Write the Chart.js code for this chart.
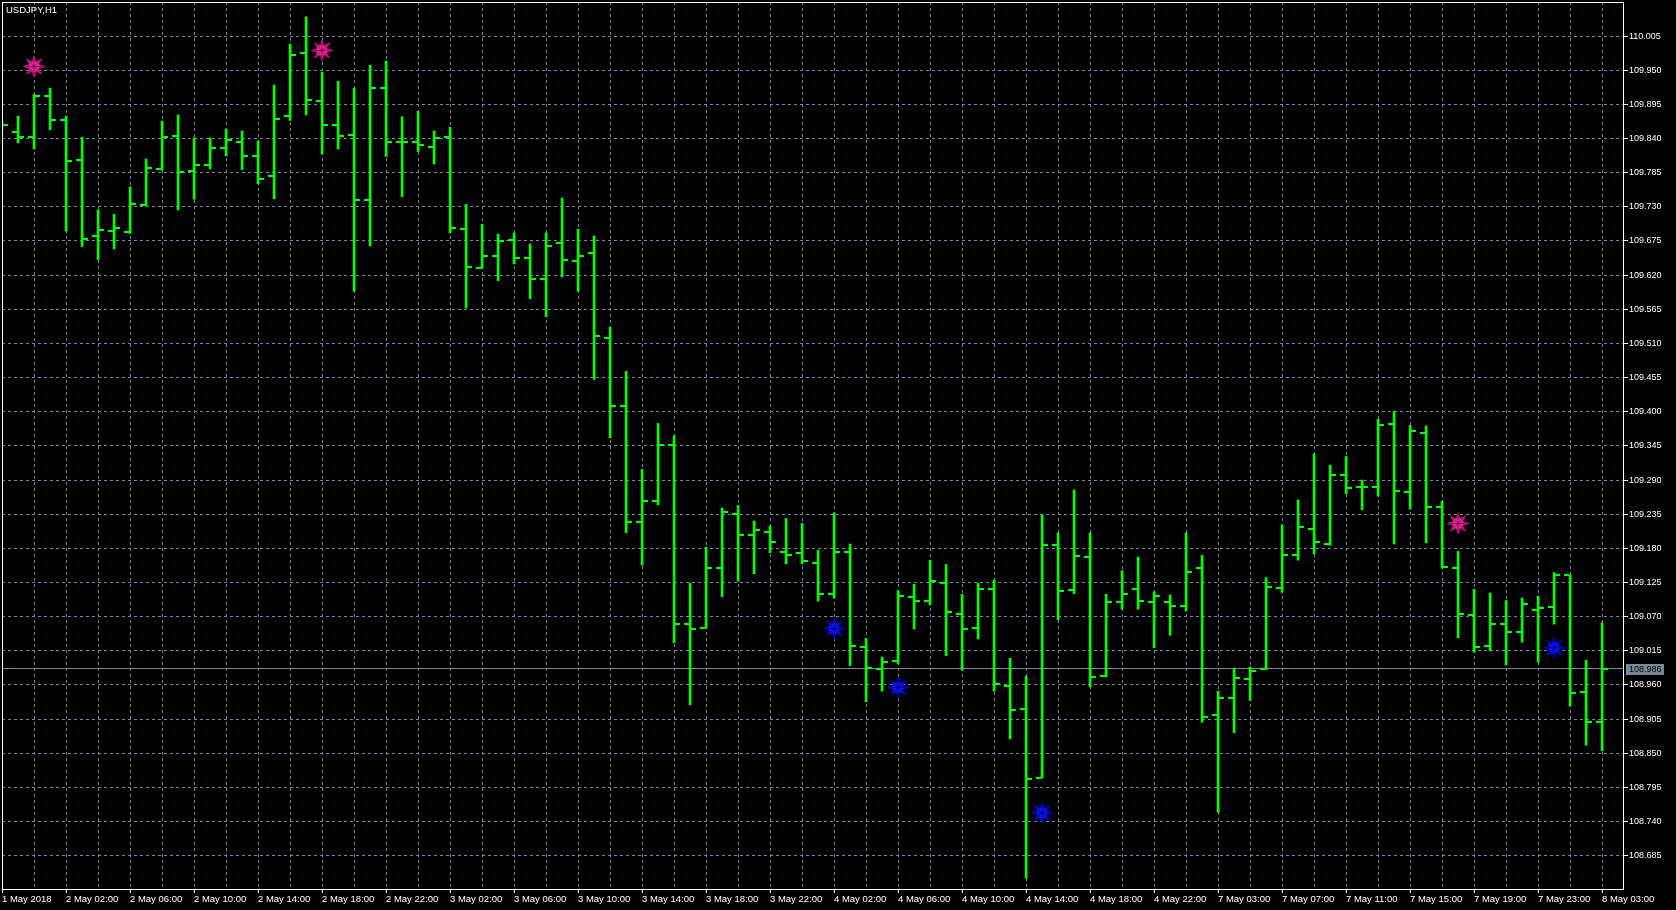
<!DOCTYPE html>
<html><head><meta charset="utf-8">
<script src="https://cdn.jsdelivr.net/npm/chart.js@4.4.1/dist/chart.umd.min.js"></script>
<style>
html,body{margin:0;padding:0;background:#000;overflow:hidden;}
#wrap{position:relative;width:1676px;height:910px;background:#000;}
#title{position:absolute;left:6px;top:4px;color:#fff;font-family:'Liberation Sans',Arial,sans-serif;font-size:9.5px;line-height:11px;white-space:nowrap;}
canvas{display:block;}
</style></head><body>
<div id="wrap"><canvas id="c" width="1676" height="910"></canvas><div id="title">USDJPY,H1</div></div>
<script>
// ---- tick labels ----
const timeTicks = ["1 May 2018","2 May 02:00","2 May 06:00","2 May 10:00","2 May 14:00","2 May 18:00","2 May 22:00",
  "3 May 02:00","3 May 06:00","3 May 10:00","3 May 14:00","3 May 18:00","3 May 22:00",
  "4 May 02:00","4 May 06:00","4 May 10:00","4 May 14:00","4 May 18:00","4 May 22:00",
  "7 May 03:00","7 May 07:00","7 May 11:00","7 May 15:00","7 May 19:00","7 May 23:00","8 May 03:00"];
const priceTicks = [108.685,108.740,108.795,108.850,108.905,108.960,109.015,109.070,109.125,109.180,109.235,109.290,
  109.345,109.400,109.455,109.510,109.565,109.620,109.675,109.730,109.785,109.840,109.895,109.950,110.005];

// ---- OHLC series (H1 bars) ----
const opens = [109.862,109.851,109.843,109.908,109.870,109.805,109.683,109.691,109.690,109.733,
  109.791,109.844,109.788,109.798,109.825,109.835,109.812,109.780,109.877,109.977,
  109.901,109.862,109.846,109.741,109.921,109.834,109.834,109.827,109.843,109.695,
  109.632,109.651,109.677,109.648,109.614,109.672,109.643,109.656,109.519,109.410,
  109.222,109.257,109.347,109.058,109.052,109.148,109.235,109.202,109.206,109.174,
  109.173,109.156,109.107,109.174,109.021,108.985,108.999,109.102,109.095,109.124,
  109.074,109.052,109.115,108.958,108.921,108.810,109.185,109.113,109.166,108.974,
  109.094,109.115,109.094,109.094,109.087,109.148,108.912,108.939,108.970,108.986,
  109.116,109.169,109.211,109.187,109.298,109.279,109.279,109.380,109.271,109.366,
  109.247,109.148,109.073,109.023,109.058,109.045,109.081,109.086,109.137,108.949,
  108.900];
const highs = [109.868,109.876,109.911,109.921,109.876,109.842,109.725,109.718,109.762,109.807,
  109.868,109.878,109.841,109.841,109.855,109.852,109.836,109.926,109.992,110.036,
  109.947,109.932,109.921,109.958,109.965,109.875,109.884,109.852,109.858,109.734,
  109.702,109.686,109.688,109.670,109.688,109.744,109.694,109.683,109.536,109.465,
  109.307,109.381,109.361,109.124,109.182,109.245,109.249,109.224,109.216,109.228,
  109.220,109.177,109.237,109.187,109.035,109.005,109.112,109.122,109.161,109.154,
  109.106,109.124,109.129,109.003,108.974,109.234,109.205,109.274,109.205,109.106,
  109.144,109.166,109.110,109.105,109.205,109.169,108.950,108.987,108.989,109.133,
  109.218,109.258,109.332,109.314,109.328,109.290,109.388,109.401,109.378,109.377,
  109.256,109.175,109.114,109.108,109.096,109.100,109.103,109.141,109.137,109.000,
  109.060];
const lows = [109.855,109.833,109.823,109.854,109.691,109.666,109.645,109.662,109.687,109.732,
  109.789,109.725,109.742,109.791,109.812,109.790,109.767,109.743,109.869,109.878,
  109.815,109.823,109.594,109.667,109.811,109.746,109.819,109.799,109.688,109.567,
  109.631,109.611,109.638,109.582,109.553,109.617,109.594,109.452,109.358,109.205,
  109.153,109.250,109.028,108.928,109.051,109.102,109.127,109.139,109.173,109.155,
  109.155,109.095,109.100,108.991,108.933,108.950,108.994,109.050,109.089,109.007,
  108.984,109.034,108.950,108.873,108.649,108.810,109.065,109.107,108.957,108.973,
  109.082,109.082,109.020,109.040,109.079,108.900,108.755,108.883,108.935,108.985,
  109.109,109.161,109.171,109.185,109.268,109.242,109.264,109.187,109.243,109.189,
  109.148,109.036,109.013,109.015,108.992,109.029,108.997,109.058,108.926,108.863,
  108.854];
const closes = [109.862,109.843,109.908,109.870,109.804,109.678,109.693,109.696,109.735,109.793,
  109.843,109.786,109.798,109.825,109.838,109.812,109.775,109.872,109.975,109.902,
  109.862,109.844,109.741,109.921,109.834,109.834,109.830,109.841,109.696,109.633,
  109.651,109.675,109.648,109.614,109.667,109.645,109.651,109.522,109.410,109.222,
  109.257,109.347,109.058,109.050,109.148,109.238,109.202,109.210,109.190,109.169,
  109.160,109.107,109.174,109.023,108.987,108.997,109.103,109.095,109.127,109.078,
  109.050,109.115,108.962,108.920,108.808,109.185,109.111,109.168,108.973,109.094,
  109.107,109.095,109.103,109.087,109.142,108.908,108.939,108.971,108.982,109.118,
  109.169,109.214,109.190,109.298,109.277,109.279,109.379,109.272,109.369,109.247,
  109.150,109.074,109.021,109.058,109.045,109.090,109.084,109.137,108.947,108.900,
  108.986];

// ---- arrow markers (bar index, price) ----
const pinkStarBars = [2, 20, 91];
const pinkStarPrices = [109.956, 109.982, 109.220];
const blueStarBars = [52, 56, 65, 97];
const blueStarPrices = [109.051, 108.956, 108.754, 109.020];

// ---- marker images ----
function tickImage(side){
  const c=document.createElement('canvas'); c.width=12; c.height=2;
  const g=c.getContext('2d'); g.fillStyle='#00ff00';
  if(side==='open') g.fillRect(0,0,5,2); else g.fillRect(7,0,5,2);
  return c;
}
function starImage(fill, stroke, spoke){
  const c=document.createElement('canvas'); c.width=23; c.height=23;
  const g=c.getContext('2d'); const cx=11.5, cy=11.5, R=11, r=5;
  g.beginPath();
  for(let i=0;i<16;i++){
    const a=-Math.PI/2+i*Math.PI/8; const rad=(i%2===0)?R:r;
    const x=cx+rad*Math.cos(a), y=cy+rad*Math.sin(a);
    if(i===0) g.moveTo(x,y); else g.lineTo(x,y);
  }
  g.closePath(); g.fillStyle=fill; g.fill();
  g.strokeStyle=stroke; g.lineWidth=1; g.stroke();
  g.beginPath();
  for(let i=0;i<8;i++){
    const a=-Math.PI/2+i*Math.PI/4;
    g.moveTo(cx,cy); g.lineTo(cx+(R-3)*Math.cos(a), cy+(R-3)*Math.sin(a));
  }
  g.strokeStyle=spoke; g.lineWidth=0.8; g.stroke();
  return c;
}

const rangeData = highs.map((h,i)=>({x:i, y:[lows[i], h]}));
const openData = opens.map((v,i)=>({x:i, y:v}));
const closeData = closes.map((v,i)=>({x:i, y:v}));
const pinkData = pinkStarBars.map((b,i)=>({x:b, y:pinkStarPrices[i]}));
const blueData = blueStarBars.map((b,i)=>({x:b, y:blueStarPrices[i]}));

const FONT = "'Liberation Sans', Arial, sans-serif";
Chart.defaults.font.family = FONT;

function noPad(s){ s.paddingLeft=0; s.paddingRight=0; s.paddingTop=0; s.paddingBottom=0; }

const framePlugin = {
  id:'frame',
  beforeDatasetsDraw(chart){
    const {ctx, chartArea:a, scales:{y}} = chart;
    const py = Math.floor(y.getPixelForValue(closes[closes.length-1]))+0.5;
    ctx.save(); ctx.strokeStyle='#778899'; ctx.lineWidth=1;
    ctx.beginPath(); ctx.moveTo(a.left,py); ctx.lineTo(a.right,py); ctx.stroke(); ctx.restore();
  },
  afterDraw(chart){
    const {ctx, chartArea:a, scales:{y}} = chart;
    ctx.save();
    ctx.strokeStyle='#ffffff'; ctx.lineWidth=1;
    ctx.strokeRect(a.left+0.5, a.top+0.5, a.right-a.left, a.bottom-a.top);
    const last = closes[closes.length-1];
    const py = Math.floor(y.getPixelForValue(last));
    ctx.fillStyle='#778899';
    ctx.fillRect(a.right+3, py-4, 38, 11);
    ctx.fillStyle='#000000';
    ctx.font = "9px "+FONT; ctx.textBaseline='middle'; ctx.textAlign='left';
    ctx.fillText(last.toFixed(3), a.right+6, py+1.5);
    ctx.restore();
  }
};

new Chart(document.getElementById('c'), {
  type:'bar',
  data:{datasets:[
    {type:'bar', data:rangeData, backgroundColor:'#00ff00', borderWidth:0, barThickness:2, order:3},
    {type:'scatter', data:openData, pointStyle:tickImage('open'), order:2},
    {type:'scatter', data:closeData, pointStyle:tickImage('close'), order:2},
    {type:'scatter', data:pinkData, pointStyle:starImage('#ff2a90','#a0106a','#5a0a60'), order:1},
    {type:'scatter', data:blueData, pointStyle:starImage('#1414ff','#0000a0','#000070'), order:1}
  ]},
  options:{
    responsive:false, animation:false, events:[],
    layout:{autoPadding:false, padding:{top:2,left:2,right:0,bottom:0}},
    plugins:{legend:{display:false}, tooltip:{enabled:false}},
    scales:{
      x:{
        type:'linear', min:0, max:101.3125, offset:false,
        afterBuildTicks(s){ const t=[]; for(let v=0; v<opens.length; v+=2) t.push({value:v}); s.ticks=t; },
        afterFit(s){ s.height=21; noPad(s); },
        grid:{display:true, offset:false, color:'#778899', lineWidth:1, drawTicks:true, tickLength:4,
              tickColor:(c)=> (c.tick && c.tick.value%4===0) ? '#ffffff' : 'rgba(0,0,0,0)'},
        border:{display:true, color:'#ffffff', dash:[3,3]},
        ticks:{autoSkip:false, maxRotation:0, minRotation:0, align:'start', padding:1, color:'#ffffff',
               font:{size:9.5, family:FONT},
               callback:(v)=> (v%4===0 && timeTicks[v/4]!==undefined) ? timeTicks[v/4] : ''}
      },
      y:{
        type:'linear', position:'right', min:108.6314, max:110.0598,
        afterBuildTicks(s){ s.ticks = priceTicks.map(v=>({value:v})); },
        afterFit(s){ s.width=53; noPad(s); },
        grid:{color:'#778899', lineWidth:1, tickLength:5, tickColor:'#ffffff'},
        border:{display:true, color:'#ffffff', dash:[3,3]},
        ticks:{color:'#ffffff', padding:1, font:{size:9, family:FONT}, callback:(v)=>Number(v).toFixed(3)}
      }
    }
  },
  plugins:[framePlugin]
});
</script>
</body></html>
